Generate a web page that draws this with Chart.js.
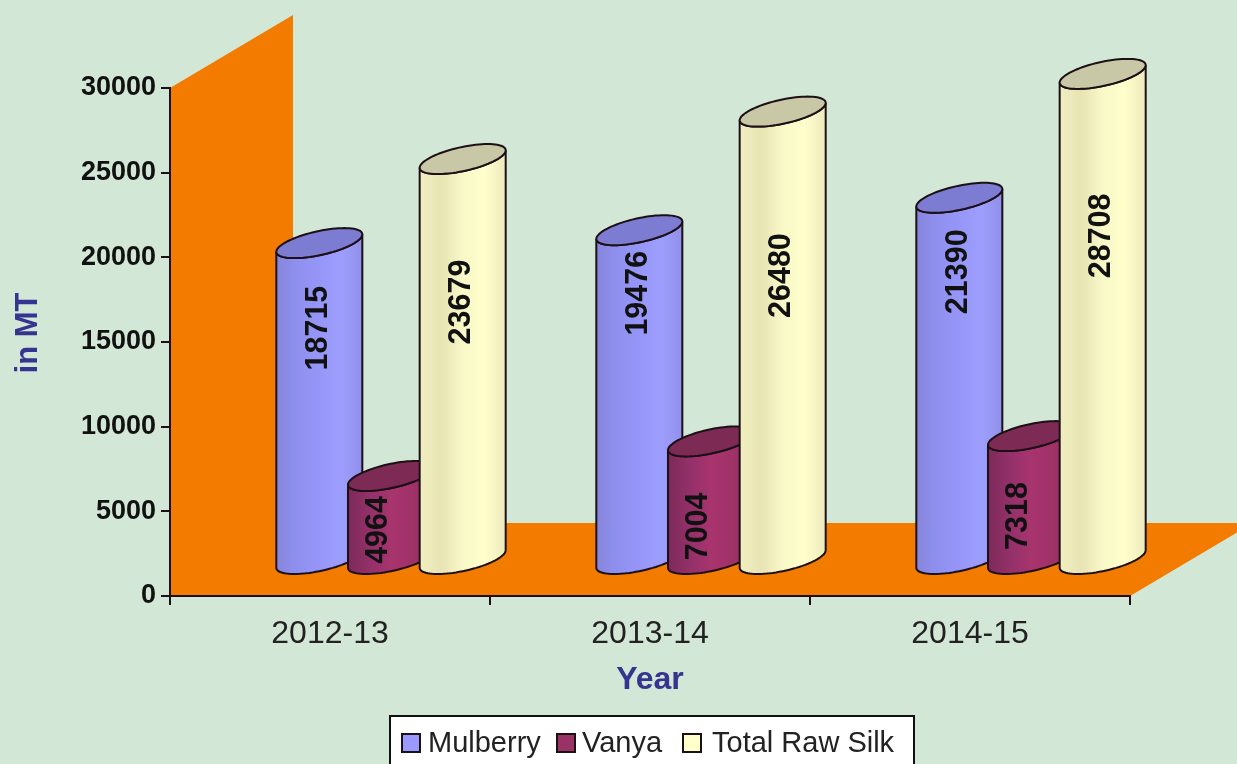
<!DOCTYPE html>
<html>
<head>
<meta charset="utf-8">
<title>Raw silk production</title>
<script src="https://cdn.jsdelivr.net/npm/chart.js@4"></script>
<style>
  html, body { margin: 0; padding: 0; background: #d3e7d6; overflow: hidden; }
  #wrap { width: 1237px; height: 764px; }
</style>
</head>
<body>
<div id="wrap"><canvas id="myChart" width="1237" height="764"></canvas></div>
<script>
const years = ['2012-13', '2013-14', '2014-15'];
const mulberry = [18715, 19476, 21390];
const vanya = [4964, 7004, 7318];
const totalRawSilk = [23679, 26480, 28708];
const yTicks = [0, 5000, 10000, 15000, 20000, 25000, 30000];

const FONT = '"Liberation Sans", Arial, sans-serif';
const TITLE_COLOR = '#35358f';
const ORANGE = '#f27b00';
const OUTLINE = '#1c1016';

// depth of the fake 3d box, and where the cylinders stand inside it
const depth = { x: 123, y: -73 };
const standOn = { x: 61, y: -36 };
const ring = { a: 35, bx: 25, by: -15 };

// shading for each series, left to right across the cylinder
const looks = [
  { cap: '#7c7cd2', side: ['#8686dc', '#9090f0', '#9696f8', '#9e9eff', '#9090ea'] },
  { cap: '#7d2a55', side: ['#7c2a58', '#93306a', '#a8346e', '#a03268', '#8a2e5c'] },
  { cap: '#c9c8a6', side: ['#f0eec0', '#e8e4b4', '#f8f8c8', '#ffffcc', '#eeeabc'] }
];
const swatchColors = ['#9999ff', '#993366', '#ffffcc'];

// the value labels do not sit at the bar middle in the original
const labelDrop = [[49, 27, 38], [18, 49, 44], [107, 128, 126]];
const labelShift = [-1, -12, -1];

const legendSwatchX = [402, 557, 683];
const legendTextX = [428, 582, 712];

function drawBox(chart) {
  const { ctx, chartArea: { left, right, top, bottom } } = chart;
  ctx.save();
  ctx.fillStyle = '#d3e7d6';
  ctx.fillRect(0, 0, chart.width, chart.height);
  // back wall and floor as one shape so no seam shows
  ctx.fillStyle = ORANGE;
  ctx.beginPath();
  ctx.moveTo(left, top);
  ctx.lineTo(left + depth.x, top + depth.y);
  ctx.lineTo(left + depth.x, bottom + depth.y);
  ctx.lineTo(right + depth.x, bottom + depth.y);
  ctx.lineTo(right, bottom);
  ctx.lineTo(left, bottom);
  ctx.closePath();
  ctx.fill();
  ctx.restore();
}

function ringPoint(cx, cy, t) {
  return {
    x: cx + ring.a * Math.cos(t) + ring.bx * Math.sin(t),
    y: cy + ring.by * Math.sin(t)
  };
}

function drawCylinder(ctx, x, yTop, yBase, look) {
  const cx = x + standOn.x;
  const topY = yTop + standOn.y;
  const baseY = yBase + standOn.y;
  const tEdge = Math.atan2(ring.bx, ring.a);
  const halfW = Math.hypot(ring.a, ring.bx);

  // body: down the left side, round the front of the base, up the right side
  ctx.beginPath();
  const start = ringPoint(cx, topY, tEdge + Math.PI);
  ctx.moveTo(start.x, start.y);
  for (let i = 0; i <= 40; i++) {
    const p = ringPoint(cx, baseY, tEdge + Math.PI + Math.PI * i / 40);
    ctx.lineTo(p.x, p.y);
  }
  const end = ringPoint(cx, topY, tEdge);
  ctx.lineTo(end.x, end.y);
  for (let i = 0; i <= 40; i++) {
    const p = ringPoint(cx, topY, tEdge + 2 * Math.PI - Math.PI * i / 40);
    ctx.lineTo(p.x, p.y);
  }
  ctx.closePath();
  const grad = ctx.createLinearGradient(cx - halfW, 0, cx + halfW, 0);
  look.side.forEach((c, i) => grad.addColorStop(i / (look.side.length - 1), c));
  ctx.fillStyle = grad;
  ctx.fill();
  ctx.strokeStyle = OUTLINE;
  ctx.lineWidth = 2;
  ctx.stroke();

  // cap
  ctx.beginPath();
  for (let i = 0; i <= 80; i++) {
    const p = ringPoint(cx, topY, 2 * Math.PI * i / 80);
    if (i === 0) ctx.moveTo(p.x, p.y); else ctx.lineTo(p.x, p.y);
  }
  ctx.closePath();
  ctx.fillStyle = look.cap;
  ctx.fill();
  ctx.stroke();
}

const boxPlugin = {
  id: 'box3d',
  beforeDraw: drawBox,
  afterDatasetsDraw(chart) {
    const { ctx } = chart;
    ctx.save();
    years.forEach((year, j) => {
      chart.data.datasets.forEach((ds, i) => {
        const bar = chart.getDatasetMeta(i).data[j];
        drawCylinder(ctx, bar.x, bar.y, bar.base, looks[i]);
      });
    });
    // value labels go on last so nothing covers them
    ctx.fillStyle = '#111';
    ctx.font = 'bold 30.5px ' + FONT;
    ctx.textAlign = 'center';
    ctx.textBaseline = 'middle';
    chart.data.datasets.forEach((ds, i) => {
      ds.data.forEach((v, j) => {
        const bar = chart.getDatasetMeta(i).data[j];
        ctx.save();
        ctx.translate(bar.x + standOn.x + labelShift[i], bar.y + labelDrop[i][j]);
        ctx.rotate(-Math.PI / 2);
        ctx.fillText(String(v), 0, 0);
        ctx.restore();
      });
    });
    ctx.restore();
  },
  afterDraw(chart) {
    const { ctx } = chart;
    ctx.save();
    // y axis title
    ctx.translate(28, 333);
    ctx.rotate(-Math.PI / 2);
    ctx.fillStyle = TITLE_COLOR;
    ctx.font = 'bold 31px ' + FONT;
    ctx.textAlign = 'center';
    ctx.textBaseline = 'middle';
    ctx.fillText('in MT', 0, 0);
    ctx.restore();

    // legend, box runs off the bottom of the page like the original
    ctx.save();
    ctx.fillStyle = '#fff';
    ctx.strokeStyle = '#111';
    ctx.lineWidth = 2;
    ctx.fillRect(390, 716, 524, 60);
    ctx.strokeRect(390, 716, 524, 60);
    ctx.font = '29px ' + FONT;
    ctx.textBaseline = 'alphabetic';
    chart.data.datasets.forEach((ds, i) => {
      ctx.fillStyle = swatchColors[i];
      ctx.fillRect(legendSwatchX[i], 734, 18, 18);
      ctx.strokeStyle = OUTLINE;
      ctx.strokeRect(legendSwatchX[i], 734, 18, 18);
      ctx.fillStyle = '#222';
      ctx.fillText(ds.label, legendTextX[i], 752);
    });
    ctx.restore();
  }
};

new Chart(document.getElementById('myChart'), {
  type: 'bar',
  data: {
    labels: years,
    datasets: [
      { label: 'Mulberry', data: mulberry },
      { label: 'Vanya', data: vanya },
      { label: 'Total Raw Silk', data: totalRawSilk }
    ].map(ds => ({ ...ds, backgroundColor: 'transparent', borderWidth: 0 }))
  },
  options: {
    responsive: false,
    animation: false,
    events: [],
    layout: { padding: { top: 88, right: 107, left: 0, bottom: 0 } },
    datasets: { bar: { categoryPercentage: 0.672, barPercentage: 1 } },
    plugins: { legend: { display: false }, tooltip: { enabled: false } },
    scales: {
      x: {
        afterFit: s => { s.height = 168; },
        border: { color: '#1c1016', width: 2 },
        grid: { drawOnChartArea: false, color: '#1c1016', lineWidth: 2, tickLength: 9 },
        ticks: { color: '#222', font: { family: FONT, size: 32 }, padding: 10, maxRotation: 0 },
        title: {
          display: true,
          text: 'Year',
          color: TITLE_COLOR,
          font: { family: FONT, size: 32, weight: 'bold' },
          padding: { top: 0, bottom: 65 }
        }
      },
      y: {
        min: 0,
        max: 30000,
        afterFit: s => { s.width = 170; },
        afterBuildTicks: s => { s.ticks = yTicks.map(v => ({ value: v })); },
        border: { color: '#1c1016', width: 2 },
        grid: { drawOnChartArea: false, color: '#1c1016', lineWidth: 2, tickLength: 9 },
        ticks: {
          color: '#111',
          font: { family: FONT, size: 27, weight: 'bold' },
          padding: 5,
          callback: v => String(v)
        }
      }
    }
  },
  plugins: [boxPlugin]
});
</script>
</body>
</html>
